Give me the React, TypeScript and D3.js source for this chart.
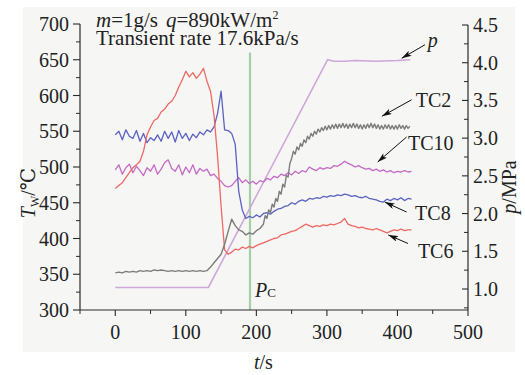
import React from "react";
import * as d3 from "d3";

const W = 525;
const H = 375;

// Axis ticks
const timeTicks = [0, 100, 200, 300, 400, 500];
const timeMinor = [-50, 50, 150, 250, 350, 450];
const tempTicks = [300, 350, 400, 450, 500, 550, 600, 650, 700];
const tempMinor = [325, 375, 425, 475, 525, 575, 625, 675];
const pressTicks = [1.0, 1.5, 2.0, 2.5, 3.0, 3.5, 4.0, 4.5];
const pressMinor = [0.75, 1.25, 1.75, 2.25, 2.75, 3.25, 3.75, 4.25];

// Wall temperature samples every 5 s, 0..420 s
const t5 = d3.range(0, 421, 5);
const tc6 = [
  470, 474, 478, 485, 492, 499, 503, 508, 522, 545,
  556, 565, 568, 577, 581, 588, 592, 600, 612, 622,
  634, 626, 632, 624, 630, 638, 620, 606, 572, 515,
  445, 384, 378, 381, 385, 384, 388, 386, 389, 387,
  390, 392, 394, 396, 398, 400, 401, 405, 406, 408,
  410, 411, 414, 417, 420, 418, 416, 418, 417, 419,
  418, 420, 419, 421, 423, 428, 420, 418, 417, 415,
  416, 414, 413, 412, 414, 412, 410, 408, 410, 412,
  411, 413, 411, 412, 412,
];
const tc8 = [
  545, 550, 538, 552, 543, 540, 551, 536, 547, 534,
  541, 537, 545, 536, 550, 540, 549, 535, 551, 540,
  547, 537, 546, 541, 549, 545, 552, 549, 556, 575,
  606, 552, 551, 547, 532, 466, 440, 428, 431, 429,
  433, 430, 435, 436, 434, 438, 441, 442, 445, 446,
  450, 448, 452, 454, 452, 456, 455, 457, 456, 459,
  458, 460, 459, 461, 460, 462, 461, 459, 460, 458,
  457, 459, 456, 455, 454, 452, 451, 455, 453, 456,
  454, 457, 453, 456, 455,
];
const tc10 = [
  496, 503, 490, 499, 504, 492, 501, 495, 488, 499,
  494, 503, 490, 497, 506, 510, 498, 494, 503, 489,
  500, 492, 503, 490, 498, 494, 497, 488, 490, 484,
  480, 474, 472, 474, 480, 485, 478, 482, 477, 480,
  476, 481, 479, 484, 482, 487, 485, 490, 488, 492,
  489, 494, 491, 495, 493, 500, 497, 495, 499, 497,
  499, 498, 502, 501, 504, 508, 505, 503, 500, 502,
  499, 497, 498, 495, 497, 494, 496, 493, 495, 492,
  494, 493, 495, 493, 494,
];

// TC2: [time s, temperature °C]
const tc2: [number, number][] = [
  [0, 352], [5, 353], [10, 352], [15, 354], [20, 353], [25, 354], [30, 353], [35, 355],
  [40, 354], [45, 355], [50, 354], [55, 356], [60, 355], [65, 356], [70, 355], [75, 354],
  [80, 355], [85, 354], [90, 355], [95, 354], [100, 355], [105, 354], [110, 355], [115, 354],
  [120, 355], [125, 354], [130, 355], [135, 360], [140, 366], [145, 372], [150, 378],
  [155, 392], [160, 410], [165, 427], [170, 418], [175, 412], [180, 410], [185, 405],
  [190, 408], [195, 406], [200, 411], [205, 414], [210, 420], [212.5, 432], [215, 428],
  [217.5, 440], [220, 436], [222.5, 448], [225, 444], [227.5, 456], [230, 452], [232.5, 466],
  [235, 462], [237.5, 476], [240, 472], [242.5, 488], [245, 486], [247.5, 505], [250, 512],
  [252.5, 522], [255, 518], [257.5, 528], [260, 524], [262.5, 533], [265, 529], [267.5, 538],
  [270, 534], [272.5, 543], [275, 539], [277.5, 547], [280, 543], [282.5, 550], [285, 546],
  [287.5, 553], [290, 549], [292.5, 555], [295, 551], [297.5, 557], [300, 552], [302.5, 558],
  [305, 553], [307.5, 559], [310, 554], [312.5, 560], [315, 554], [317.5, 560], [320, 555],
  [322.5, 561], [325, 555], [327.5, 560], [330, 554], [332.5, 560], [335, 555], [337.5, 561],
  [340, 555], [342.5, 560], [345, 554], [347.5, 559], [350, 553], [352.5, 559], [355, 554],
  [357.5, 560], [360, 555], [362.5, 561], [365, 555], [367.5, 560], [370, 554], [372.5, 559],
  [375, 553], [377.5, 558], [380, 553], [382.5, 559], [385, 554], [387.5, 559], [390, 553],
  [392.5, 558], [395, 553], [397.5, 558], [400, 553], [402.5, 559], [405, 554], [407.5, 558],
  [410, 553], [412.5, 558], [415, 554], [417.5, 557],
];

// System pressure: [time s, MPa]
const pressure: [number, number][] = [
  [0, 1.02], [132, 1.02], [301, 4.04], [310, 4.02], [325, 4.02], [340, 4.03],
  [370, 4.02], [400, 4.03], [418, 4.04],
];

// Pseudo-critical crossing time
const pcTime = 191;

// Callouts in (time, left-axis temperature) units
const callouts = [
  { label: "p", italic: true, tail: [439, 671], head: [406, 652], text: [443, 668] },
  { label: "TC2", italic: false, tail: [420, 594], head: [378, 571], text: [426, 584] },
  { label: "TC10", italic: false, tail: [413, 542], head: [372, 507], text: [415, 524] },
  { label: "TC8", italic: false, tail: [413, 437], head: [382, 451], text: [425, 426] },
  { label: "TC6", italic: false, tail: [415, 393], head: [387, 405], text: [429, 373] },
];

const FONT = "Liberation Serif, DejaVu Serif, serif";

export default function App() {
  const x = d3.scaleLinear().domain([-50, 500]).range([80, 468]);
  const yT = d3.scaleLinear().domain([300, 700]).range([310, 24]);
  const yP = d3.scaleLinear().domain([1.0, 4.5]).range([289, 25]);

  const tempLine = d3
    .line<[number, number]>()
    .x((d) => x(d[0]))
    .y((d) => yT(d[1]));
  const pressLine = d3
    .line<[number, number]>()
    .x((d) => x(d[0]))
    .y((d) => yP(d[1]));

  const zip = (vals: number[]): [number, number][] => vals.map((v, i) => [t5[i], v]);

  const series = [
    { data: zip(tc10), color: "#c46ac6", w: 1.3 },
    { data: zip(tc8), color: "#5b62c2", w: 1.3 },
    { data: zip(tc6), color: "#ee6864", w: 1.3 },
    { data: tc2, color: "#7c7c7c", w: 1.4 },
  ];

  const x0 = x(-50);
  const x1 = x(500);
  const yBottom = yT(300);
  const axisColor = "#2a2a2a";

  return (
    <div style={{ position: "absolute", left: 0, top: 0 }}>
      <svg width={W} height={H} style={{ display: "block" }}>
        <defs>
          <marker
            id="arrowHead"
            viewBox="0 0 10 6"
            refX="10"
            refY="3"
            markerWidth="10"
            markerHeight="6"
            markerUnits="userSpaceOnUse"
            orient="auto"
          >
            <path d="M0,0 L10,3 L0,6 L2.5,3 z" fill="#111" />
          </marker>
        </defs>
        <rect x={0} y={0} width={W} height={H} fill="#ffffff" />
        <rect x={23} y={7} width={492} height={345} fill="#f6f6f4" />

        {/* Pc marker line */}
        <line
          x1={x(pcTime)}
          x2={x(pcTime)}
          y1={yT(660)}
          y2={yBottom}
          stroke="#a6cfa8"
          strokeWidth={2.2}
        />

        {/* Pressure */}
        <path d={pressLine(pressure) || ""} fill="none" stroke="#cfa6da" strokeWidth={1.6} />

        {/* Wall temperatures */}
        {series.map((s, i) => (
          <path
            key={i}
            d={tempLine(s.data) || ""}
            fill="none"
            stroke={s.color}
            strokeWidth={s.w}
            strokeLinejoin="round"
          />
        ))}

        <g fontFamily={FONT} fill="#222">
          {/* Left axis */}
          <line x1={x0} x2={x0} y1={yT(700)} y2={yBottom} stroke={axisColor} strokeWidth={1.2} />
          {tempTicks.map((v) => (
            <g key={v}>
              <line x1={x0 - 7} x2={x0} y1={yT(v)} y2={yT(v)} stroke={axisColor} strokeWidth={1.1} />
              <text x={x0 - 11} y={yT(v)} dy="0.35em" textAnchor="end" fontSize={20}>
                {v}
              </text>
            </g>
          ))}
          {tempMinor.map((v) => (
            <line key={v} x1={x0 - 4} x2={x0} y1={yT(v)} y2={yT(v)} stroke={axisColor} strokeWidth={1} />
          ))}

          {/* Bottom axis */}
          <line x1={x0} x2={x1} y1={yBottom} y2={yBottom} stroke={axisColor} strokeWidth={1.2} />
          {timeTicks.map((v) => (
            <g key={v}>
              <line x1={x(v)} x2={x(v)} y1={yBottom} y2={yBottom + 6} stroke={axisColor} strokeWidth={1.1} />
              <text x={x(v)} y={yBottom + 29} textAnchor="middle" fontSize={20}>
                {v}
              </text>
            </g>
          ))}
          {timeMinor.map((v) => (
            <line key={v} x1={x(v)} x2={x(v)} y1={yBottom} y2={yBottom + 4} stroke={axisColor} strokeWidth={1} />
          ))}

          {/* Right axis */}
          <line x1={x1} x2={x1} y1={yP(4.5)} y2={yBottom} stroke={axisColor} strokeWidth={1.2} />
          {pressTicks.map((v) => (
            <g key={v}>
              <line x1={x1 - 6} x2={x1} y1={yP(v)} y2={yP(v)} stroke={axisColor} strokeWidth={1.1} />
              <text x={x1 + 5} y={yP(v)} dy="0.35em" textAnchor="start" fontSize={20}>
                {v.toFixed(1)}
              </text>
            </g>
          ))}
          {pressMinor.map((v) => (
            <line key={v} x1={x1 - 4} x2={x1} y1={yP(v)} y2={yP(v)} stroke={axisColor} strokeWidth={1} />
          ))}

          {/* Axis titles */}
          <text transform="translate(35,193) rotate(-90)" textAnchor="middle" fontSize={20}>
            <tspan fontStyle="italic">T</tspan>
            <tspan fontSize={12} dy={4}>W</tspan>
            <tspan dy={-4}>/℃</tspan>
          </text>
          <text transform="translate(516,187) rotate(-90)" textAnchor="middle" fontSize={20}>
            <tspan fontStyle="italic">p</tspan>
            <tspan>/MPa</tspan>
          </text>
          <text x={x(210)} y={369} textAnchor="middle" fontSize={20}>
            <tspan fontStyle="italic">t</tspan>
            <tspan>/s</tspan>
          </text>

          {/* Conditions */}
          <text x={96} y={27} fontSize={21}>
            <tspan fontStyle="italic">m</tspan>
            <tspan>=1g/s</tspan>
            <tspan dx={8} fontStyle="italic">q</tspan>
            <tspan>=890kW/m</tspan>
            <tspan fontSize={12} dy={-8}>2</tspan>
          </text>
          <text x={96} y={45} fontSize={21}>
            Transient rate 17.6kPa/s
          </text>

          {/* Pc label */}
          <text x={x(pcTime) + 5} y={yT(318)} fontSize={20}>
            <tspan fontStyle="italic">P</tspan>
            <tspan fontSize={13}>C</tspan>
          </text>

          {/* Callouts */}
          {callouts.map((c) => (
            <g key={c.label}>
              <line
                x1={x(c.tail[0])}
                y1={yT(c.tail[1])}
                x2={x(c.head[0])}
                y2={yT(c.head[1])}
                stroke="#111"
                strokeWidth={1}
                markerEnd="url(#arrowHead)"
              />
              <text
                x={x(c.text[0])}
                y={yT(c.text[1])}
                fontSize={20}
                fontStyle={c.italic ? "italic" : "normal"}
              >
                {c.label}
              </text>
            </g>
          ))}
        </g>
      </svg>
    </div>
  );
}
